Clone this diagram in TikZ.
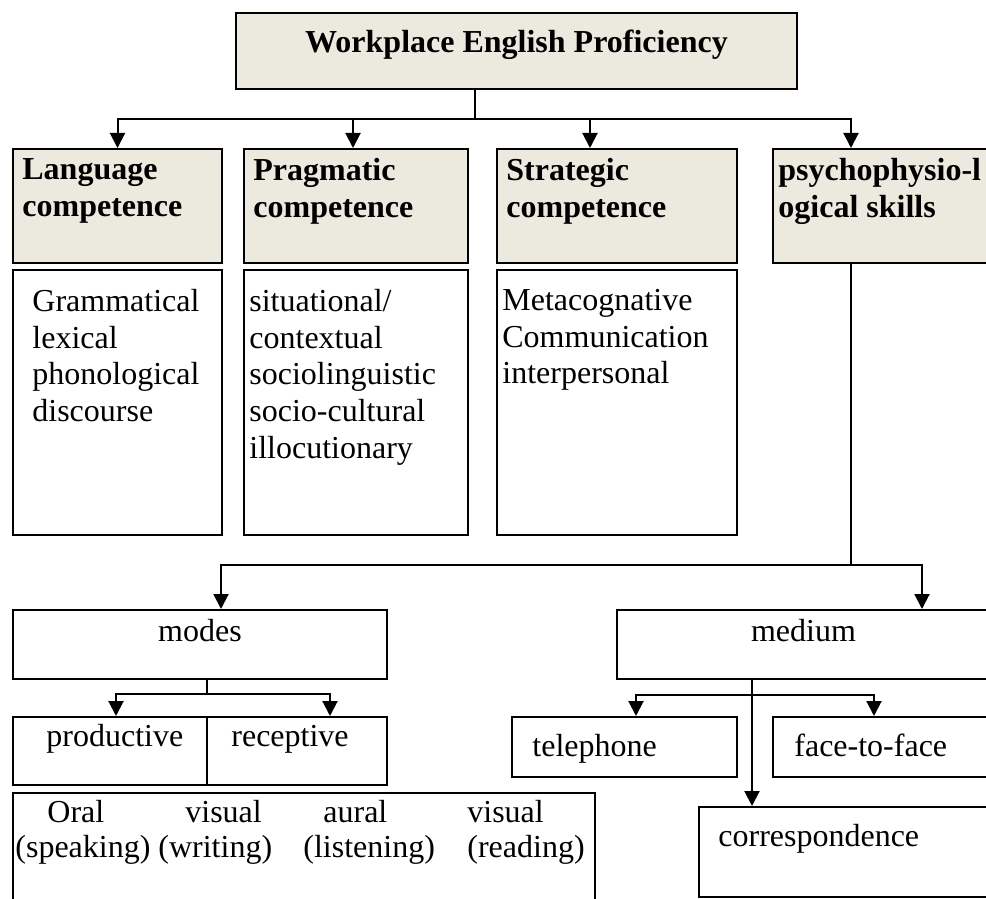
\documentclass[tikz,border=0pt]{standalone}
\usepackage{fontspec}
\setmainfont{Liberation Serif}
\usetikzlibrary{arrows.meta,calc,fit}

\definecolor{headfill}{RGB}{236,233,223}

\tikzset{
  box/.style={draw, line width=1pt, inner sep=0pt},
  headbox/.style={box, fill=headfill},
  lbl/.style={inner sep=0pt, align=left, font=\fontsize{16}{18.3}\selectfont},
  headlbl/.style={lbl, font=\fontsize{16}{18.5}\selectfont\bfseries},
  link/.style={line width=1pt},
  arr/.style={link, -{Triangle[width=7.5pt,length=7.5pt]}},
}

\begin{document}
\begin{tikzpicture}[x=0.5pt, y=-0.5pt]
\clip (0,0) rectangle (986,899);

% Top box
\node[headbox, fit={(236,13) (797,89)}] (top) {};
\node[headlbl, anchor=base] (title) at ($(top.north)+(0,41)$) {Workplace English Proficiency};

% Four competences
\node[headbox, fit={(13,149) (222,263)}] (lang) {};
\node[headbox, fit={(244,149) (468,263)}] (prag) {};
\node[headbox, fit={(497,149) (737,263)}] (strat) {};
\node[headbox, fit={(773,149) (1000,263)}] (psy) {};
\node[headlbl, anchor=north west] (langhd) at ($(lang.north west)+(10,10)$) {Language\\competence};
\node[headlbl, anchor=north west] (praghd) at ($(prag.north west)+(10,10)$) {Pragmatic\\competence};
\node[headlbl, anchor=north west] (strathd) at ($(strat.north west)+(10,10)$) {Strategic\\competence};
\node[headlbl, anchor=north west] (psyhd) at ($(psy.north west)+(6,10)$) {psychophysio-l\\ogical skills};

% Lists under the competences
\node[box, fit={(13,270) (222,535)}] (langlist) {};
\node[box, fit={(244,270) (468,535)}] (praglist) {};
\node[box, fit={(497,270) (737,535)}] (stratlist) {};
\node[lbl, anchor=north west] (langitems) at ($(langlist.north west)+(20,20)$)
  {Grammatical\\lexical\\phonological\\discourse};
\node[lbl, anchor=north west] (pragitems) at ($(praglist.north west)+(6,20)$)
  {situational/\\contextual\\sociolinguistic\\socio-cultural\\illocutionary};
\node[lbl, anchor=north west] (stratitems) at ($(stratlist.north west)+(6,20)$)
  {Metacognative\\Communication\\interpersonal};

% Top connectors
\coordinate (hub) at (475,119);
\draw[link] (hub |- top.south) -- (hub);
\draw[arr] (hub) -| (lang.north);
\draw[arr] (hub) -| ($(prag.north west)+(110,0)$);
\draw[arr] (hub) -| ($(strat.north west)+(94,0)$);
\draw[arr] (hub) -| ($(psy.north west)+(79,0)$);

% Modes branch
\node[box, fit={(13,610) (387,679)}] (modes) {};
\node[lbl, anchor=base] (modestxt) at ($(modes.north)+(0,32)$) {modes};
\node[box, fit={(13,717) (207,785)}] (prod) {};
\node[box, fit={(207,717) (387,785)}] (recep) {};
\node[lbl, anchor=base west] (prodtxt) at ($(prod.north west)+(34,30)$) {productive};
\node[lbl, anchor=base west] (receptxt) at ($(recep.north west)+(25,30)$) {receptive};
\node[box, fit={(13,793) (595,920)}] (skills) {};
\foreach \x/\w [count=\i] in {47/Oral,185/visual,323/aural,467/visual}
  \node[lbl, anchor=base west] (skill\i) at (\x,822) {\w};
\foreach \x/\w [count=\i] in {15/(speaking),158/(writing),303/(listening),467/(reading)}
  \node[lbl, anchor=base west] (use\i) at (\x,857) {\w};

% Medium branch
\node[box, fit={(617,610) (990,679)}] (medium) {};
\node[lbl, anchor=base] (mediumtxt) at ($(medium.north)+(0,32)$) {medium};
\node[box, fit={(512,717) (737,777)}] (tele) {};
\node[box, fit={(773,717) (1000,777)}] (face) {};
\node[box, fit={(699,807) (1000,897)}] (corr) {};
\node[lbl, anchor=base west] (teletxt) at ($(tele.north west)+(21,40)$) {telephone};
\node[lbl, anchor=base west] (facetxt) at ($(face.north west)+(22,40)$) {face-to-face};
\node[lbl, anchor=base west] (corrtxt) at ($(corr.north west)+(20,40)$) {correspondence};

% Lower connectors
\coordinate (split) at (851,565);
\draw[link] (split |- psy.south) -- (split);
\draw[arr] (split) -| ($(modes.north west)+(209,0)$);
\draw[arr] (split) -| ($(medium.north west)+(306,0)$);

\coordinate (mfork) at (207,694);
\draw[link] (mfork |- modes.south) -- (mfork);
\draw[arr] (mfork) -| ($(prod.north west)+(104,0)$);
\draw[arr] (mfork) -| ($(recep.north west)+(124,0)$);

\coordinate (mefork) at (752,695);
\draw[arr] (mefork |- medium.south) -- (mefork |- corr.north);
\draw[arr] (mefork) -| ($(tele.north west)+(125,0)$);
\draw[arr] (mefork) -| ($(face.north west)+(102,0)$);
\end{tikzpicture}
\end{document}
